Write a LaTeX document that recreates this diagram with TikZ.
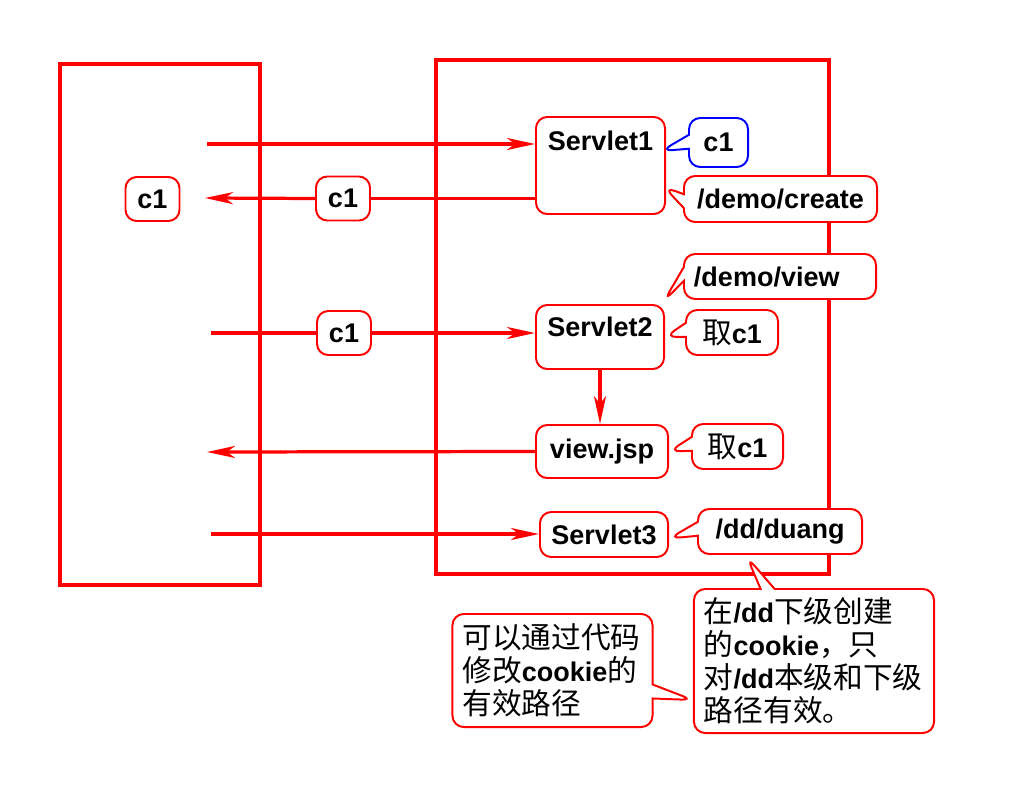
\documentclass[tikz,border=0pt]{standalone}
\usepackage{fontspec}
\setmainfont{Liberation Sans}
\newfontfamily\cjk[Scale=1.1]{Noto Sans CJK SC}
\newcommand\zh[1]{{\cjk\mdseries #1}}
\usetikzlibrary{arrows.meta,shapes.callouts,calc}

\begin{document}
\begin{tikzpicture}[x=0.025cm, y=-0.025cm,
        every node/.style={font=\fontsize{19.2}{23.4}\selectfont\bfseries},
        frame/.style={draw=red, line width=2.3pt, inner sep=0pt},
        servlet/.style={draw=red, fill=white, line width=1.4pt, rounded corners=8pt, inner sep=0pt},
        tag/.style={rectangle callout, draw=red, fill=white, line width=1.4pt, rounded corners=8pt,
            inner xsep=0.25cm, callout pointer width=0.35cm},
        cookie/.style={draw=red, fill=white, line width=1.4pt, rounded corners=8pt, minimum width=1.35cm, minimum height=1.1cm},
        arr/.style={draw=red, line width=2.3pt, -{Stealth[length=0.7cm, width=0.3cm, inset=0.2cm]}},
        wire/.style={draw=red, line width=2.3pt}
    ]
    \useasboundingbox (0,0) rectangle (1024,801);

    % Browser und Server
    \node[frame, minimum width=5cm, minimum height=13.025cm] (browser) at (160,324.5) {};
    \node[frame, minimum width=9.825cm, minimum height=12.85cm] (server) at (632.5,317) {};

    % Servlets
    \node[servlet, minimum width=3.225cm, minimum height=2.425cm, label={[anchor=north, yshift=-0.25cm]north:Servlet1}] (s1) at (600.5,165.5) {};
    \node[servlet, minimum width=3.2cm, minimum height=1.6cm, label={[anchor=north, yshift=-0.2cm]north:Servlet2}] (s2) at (600,337) {};
    \node[servlet, minimum width=3.3cm, minimum height=1.325cm] (vj) at (602,451.5) {view.jsp};
    \node[servlet, minimum width=3.2cm, minimum height=1.125cm] (s3) at (604,534.5) {Servlet3};

    % Cookies
    \node[cookie] (kb) at (152.5,199) {c1};
    \node[cookie] (k1) at (343,198.5) {c1};
    \node[cookie] (k2) at (344,333) {c1};

    % Pfade und Hinweise
    \node[tag, draw=blue, minimum width=1.475cm, minimum height=1.225cm,
        callout absolute pointer={($(s1.north east)+(-5,35)$)}] (c1s) at (718.5,142.5) {c1};
    \node[tag, minimum width=4.825cm, minimum height=1.15cm,
        callout absolute pointer={($(s1.east)+(-2,21.5)$)}] (dc) at (780.5,199) {/demo/create};
    \node[tag, minimum height=1.125cm, text width=4.3cm, align=left,
        callout absolute pointer={($(s2.north east)+(-1,-3)$)}] (dv) at (780,276.5) {/demo/view};
    \node[tag, minimum width=2.3cm, minimum height=1.125cm,
        callout absolute pointer={(s2.east)}] (q1) at (732,332.5) {\zh{取}c1};
    \node[tag, minimum width=2.275cm, minimum height=1.125cm,
        callout absolute pointer={(vj.east)}] (q2) at (737.5,446.5) {\zh{取}c1};
    \node[tag, minimum width=4.1cm, minimum height=1.125cm,
        callout absolute pointer={($(s3.east)+(0,4)$)}] (dd) at (780,531.5) {/dd/duang};
    \node[tag, text width=5.5cm, minimum height=3.6cm, align=left,
        callout absolute pointer={($(dd.south)+(-33,2)$)}] (rule) at (814,661)
        {\zh{在}/dd\zh{下级创建}\\\zh{的}cookie\zh{，只}\\\zh{对}/dd\zh{本级和下级}\\\zh{路径有效。}};
    \node[tag, text width=4.5cm, minimum height=2.825cm, align=left,
        callout absolute pointer={($(rule.west)+(0,39)$)}] (hint) at (552.5,670.5)
        {\zh{可以通过代码}\\\zh{修改}cookie\zh{的}\\\zh{有效路径}};

    % Anfragen und Antworten
    \coordinate (in1) at (207,144);
    \coordinate (out1) at (205,198);
    \coordinate (in2) at (211,333);
    \coordinate (out2) at (207,452);
    \coordinate (in3) at (211,534);
    \draw[arr] (in1) -- (in1 -| s1.west);
    \draw[wire] (s1.west |- k1) -- (k1.east);
    \draw[arr] (k1.west) -- (out1);
    \draw[wire] (in2) -- (k2.west);
    \draw[arr] (k2.east) -- (k2 -| s2.west);
    \draw[arr] (s2.south) -- (s2.south |- vj.north);
    \draw[arr] (vj.west) -- (out2);
    \draw[arr] (in3) -- (in3 -| s3.west);
\end{tikzpicture}
\end{document}
